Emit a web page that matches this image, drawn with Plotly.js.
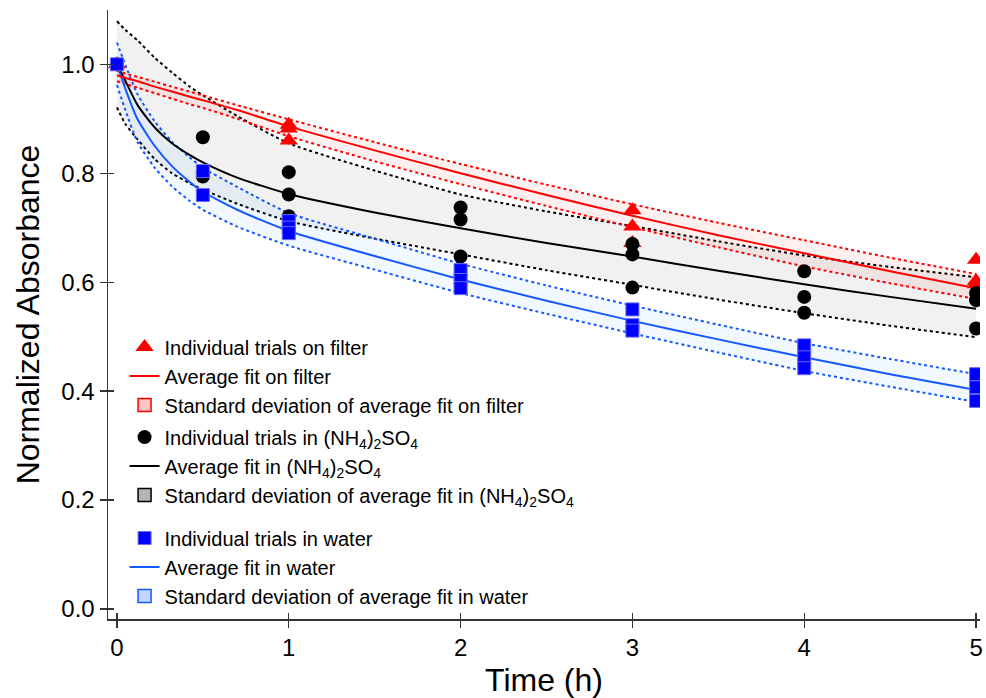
<!DOCTYPE html>
<html>
<head>
<meta charset="utf-8">
<script src="https://cdn.plot.ly/plotly-3.0.1.min.js"></script>
<style>html,body{margin:0;padding:0;background:#fff;}#chart{width:986px;height:698px;}</style>
</head>
<body>
<div id="chart"></div>
<script>
// ---- individual trials ----
const filterT = [0, 1, 1, 1, 3, 3, 3, 5, 5, 5];
const filterA = [1.0, 0.889, 0.882, 0.860, 0.732, 0.702, 0.672, 0.641, 0.602, 0.596];

const ammT = [0, 0.5, 0.5, 0.5, 1, 1, 1, 2, 2, 2, 3, 3, 3, 4, 4, 4, 5, 5, 5];
const ammA = [1.0, 0.866, 0.800, 0.794, 0.802, 0.761, 0.721, 0.737, 0.715, 0.647, 0.670, 0.651, 0.590, 0.620, 0.573, 0.544, 0.580, 0.567, 0.515];

const waterT = [0, 0.5, 0.5, 1, 1, 1, 2, 2, 2, 3, 3, 3, 4, 4, 4, 5, 5, 5];
const waterA = [1.0, 0.804, 0.760, 0.712, 0.700, 0.690, 0.622, 0.604, 0.589, 0.550, 0.521, 0.511, 0.484, 0.462, 0.442, 0.431, 0.407, 0.382];

// ---- fitted curves ----
const fitT = [0, 0.05, 0.12, 0.22, 0.32, 0.42, 0.5, 0.7, 1, 1.5, 2, 2.5, 3, 3.5, 4, 4.5, 5];

const filterFit   = [0.980, 0.975, 0.969, 0.959, 0.950, 0.941, 0.934, 0.916, 0.886, 0.842, 0.800, 0.760, 0.722, 0.686, 0.653, 0.620, 0.589];
const filterUpper = [0.988, 0.983, 0.977, 0.968, 0.959, 0.950, 0.943, 0.925, 0.899, 0.857, 0.817, 0.779, 0.743, 0.709, 0.677, 0.645, 0.615];
const filterLower = [0.969, 0.964, 0.957, 0.947, 0.937, 0.927, 0.920, 0.900, 0.868, 0.822, 0.780, 0.740, 0.701, 0.664, 0.629, 0.598, 0.569];

const ammFit   = [1.000, 0.969, 0.925, 0.884, 0.855, 0.834, 0.820, 0.792, 0.762, 0.728, 0.699, 0.672, 0.647, 0.621, 0.596, 0.573, 0.551];
const ammUpper = [1.079, 1.063, 1.044, 1.012, 0.985, 0.960, 0.943, 0.905, 0.855, 0.805, 0.761, 0.730, 0.703, 0.675, 0.649, 0.628, 0.609];
const ammLower = [0.921, 0.890, 0.862, 0.826, 0.800, 0.782, 0.770, 0.744, 0.712, 0.680, 0.651, 0.622, 0.595, 0.568, 0.543, 0.520, 0.499];

const waterFit   = [1.000, 0.954, 0.899, 0.850, 0.813, 0.785, 0.766, 0.733, 0.694, 0.648, 0.605, 0.566, 0.529, 0.495, 0.462, 0.431, 0.402];
const waterUpper = [1.040, 0.998, 0.945, 0.895, 0.858, 0.830, 0.810, 0.775, 0.727, 0.680, 0.634, 0.594, 0.557, 0.522, 0.488, 0.459, 0.431];
const waterLower = [0.962, 0.915, 0.857, 0.810, 0.776, 0.750, 0.733, 0.702, 0.667, 0.623, 0.580, 0.542, 0.506, 0.471, 0.437, 0.408, 0.380];

// ---- labels ----
const NH = '(NH<sub>4</sub>)<sub>2</sub>SO<sub>4</sub>';
const labels = {
  fTrial: 'Individual trials on filter',
  fFit: 'Average fit on filter',
  fSd: 'Standard deviation of average fit on filter',
  aTrial: 'Individual trials in ' + NH,
  aFit: 'Average fit in ' + NH,
  aSd: 'Standard deviation of average fit in ' + NH,
  wTrial: 'Individual trials in water',
  wFit: 'Average fit in water',
  wSd: 'Standard deviation of average fit in water'
};
const xTicks = [0, 1, 2, 3, 4, 5];
const yTicks = [0, 0.2, 0.4, 0.6, 0.8, 1.0];

const RED = '#FF0000', BLK = '#000000', BLU = '#1558FF', MBLU = '#0000FF';

function band(upper, lower, col, fill) {
  return [
    {x: fitT, y: upper, mode: 'lines', line: {color: col, width: 2, dash: 'dot', shape: 'spline', smoothing: 0.6}, showlegend: false, hoverinfo: 'skip'},
    {x: fitT, y: lower, mode: 'lines', fill: 'tonexty', fillcolor: fill, line: {color: col, width: 2, dash: 'dot', shape: 'spline', smoothing: 0.6}, showlegend: false, hoverinfo: 'skip'}
  ];
}
function fitLine(y, col, name, lg, rank) {
  return {x: fitT, y: y, mode: 'lines', name: name, legend: lg, legendrank: rank,
          line: {color: col, width: 2, shape: 'spline', smoothing: 0.6}};
}
function sdLegend(name, lg, rank, fillc, linec) {
  return {x: [null], y: [null], mode: 'markers', name: name, legend: lg, legendrank: rank,
          marker: {symbol: 'square', size: 13, color: fillc, line: {color: linec, width: 1.5}}};
}

const traces = [].concat(
  band(ammUpper, ammLower, BLK, 'rgba(0,0,0,0.055)'),
  band(waterUpper, waterLower, BLU, 'rgba(60,150,255,0.07)'),
  band(filterUpper, filterLower, RED, 'rgba(255,0,0,0.06)'),
  [
    fitLine(ammFit, BLK, labels.aFit, 'legend2', 2),
    fitLine(waterFit, BLU, labels.wFit, 'legend3', 2),
    fitLine(filterFit, RED, labels.fFit, 'legend', 2),
    sdLegend(labels.fSd, 'legend', 3, '#FFC4C4', RED),
    sdLegend(labels.aSd, 'legend2', 3, '#B4B4B4', BLK),
    sdLegend(labels.wSd, 'legend3', 3, '#C4D6FF', BLU),
    {x: filterT, y: filterA, mode: 'markers', name: labels.fTrial, legend: 'legend', legendrank: 1,
     marker: {symbol: 'triangle-up', size: 16, color: RED}},
    {x: ammT, y: ammA, mode: 'markers', name: labels.aTrial, legend: 'legend2', legendrank: 1,
     marker: {symbol: 'circle', size: 14, color: BLK}},
    {x: waterT, y: waterA, mode: 'markers', name: labels.wTrial, legend: 'legend3', legendrank: 1,
     marker: {symbol: 'square', size: 13, color: MBLU, line: {color: '#6a6aff', width: 1}}}
  ]
);

const XR = [-0.052, 5.023], YR = [-0.0184, 1.0997];
const FAM = 'Liberation Sans, Arial, sans-serif';
const axFont = {family: FAM, size: 24, color: '#000'};
const legBase = {x: 0.019, xanchor: 'left', yanchor: 'top', traceorder: 'normal',
                 bgcolor: 'rgba(0,0,0,0)', font: {family: FAM, size: 20, color: '#000'}};
const EPS = 1e-6;

const layout = {
  width: 986, height: 698,
  margin: {l: 108, r: 6, t: 10, b: 79},
  paper_bgcolor: '#fff', plot_bgcolor: '#fff',
  showlegend: true,
  legend: Object.assign({}, legBase, {y: 0.4785}),
  legend2: Object.assign({}, legBase, {y: 0.3307}),
  legend3: Object.assign({}, legBase, {y: 0.165}),
  xaxis: {range: XR, tickvals: xTicks, ticktext: xTicks.map(String), ticks: 'outside', ticklen: 7, tickwidth: 1.3,
          tickcolor: '#333', showline: true, linecolor: '#333', linewidth: 1.5, showgrid: false, zeroline: false,
          minor: {tickvals: xTicks.map(v => v + EPS), ticks: 'inside', ticklen: 6, tickwidth: 1.3, tickcolor: '#333', showgrid: false},
          tickfont: axFont,
          title: {text: 'Time (h)', font: {family: FAM, size: 32, color: '#000'}, standoff: 10}},
  yaxis: {range: YR, tickvals: yTicks, ticktext: yTicks.map(v => v.toFixed(1)), ticks: 'outside', ticklen: 7, tickwidth: 1.3,
          tickcolor: '#333', showline: true, linecolor: '#333', linewidth: 1.5, showgrid: false, zeroline: false,
          minor: {tickvals: yTicks.map(v => v + EPS), ticks: 'inside', ticklen: 6, tickwidth: 1.3, tickcolor: '#333', showgrid: false},
          tickfont: axFont,
          title: {text: 'Normalized Absorbance', font: {family: FAM, size: 32, color: '#000'}, standoff: 12}}
};

Plotly.newPlot('chart', traces, layout, {displayModeBar: false, staticPlot: true});
</script>
</body>
</html>
